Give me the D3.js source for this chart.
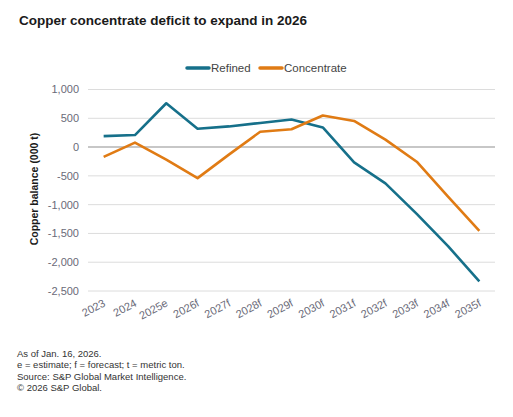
<!DOCTYPE html>
<html><head><meta charset="utf-8">
<script src="https://cdn.jsdelivr.net/npm/d3@7"></script>
<style>
body{margin:0;background:#fff;}
svg{display:block;font-family:"Liberation Sans",Arial,sans-serif;}
</style></head>
<body>
<svg id="chart" width="513" height="417"></svg>
<script>
const categories = ["2023","2024","2025e","2026f","2027f","2028f","2029f","2030f","2031f","2032f","2033f","2034f","2035f"];
const refined = [182, 200, 752, 310, 350, 410, 470, 333, -275, -640, -1170, -1730, -2340];
const concentrate = [-180, 68, -225, -548, -140, 258, 302, 540, 445, 120, -263, -870, -1465];
const yTicks = [1000, 500, 0, -500, -1000, -1500, -2000, -2500];
const seriesNames = ["Refined", "Concentrate"];
const colors = ["#16708a", "#e07b14"];
const footnotes = ["As of Jan. 16, 2026.", "e = estimate; f = forecast; t = metric ton.", "Source: S&P Global Market Intelligence.", "\u00a9 2026 S&P Global."];

const svg = d3.select("#chart");
const L = 88, R = 495, T = 89, B = 290.5;

const x = d3.scalePoint().domain(categories).range([L, R]).padding(0.5);
const y = d3.scaleLinear().domain([-2500, 1000]).range([B, T]);

svg.append("text").attr("x", 19).attr("y", 25)
  .attr("font-size", 13.5).attr("font-weight", "bold").attr("fill", "#1a1a1a")
  .text("Copper concentrate deficit to expand in 2026");

// grid
const yAxis = d3.axisLeft(y).tickValues(yTicks).tickSize(-(R - L)).tickPadding(9)
  .tickFormat(d3.format(","));
const gy = svg.append("g").attr("transform", `translate(${L},0)`).call(yAxis);
gy.select(".domain").remove();
gy.selectAll(".tick line").attr("stroke", d => d === 0 ? "#b5b5b5" : "#dcdcdc").attr("stroke-width", d => d === 0 ? 1.5 : 1);
gy.selectAll(".tick text").attr("font-size", 11).attr("fill", "#6a6a78")
  .attr("font-family", "'Liberation Sans',Arial,sans-serif")
  .attr("x", -9).attr("dy", "0.35em").text(d => d3.format(",")(d).replace("\u2212", "-"));

// x axis labels
const xAxis = d3.axisBottom(x).tickSize(0).tickPadding(0);
const gx = svg.append("g").attr("transform", `translate(0,${B})`).call(xAxis);
gx.select(".domain").remove();
gx.selectAll(".tick text").attr("font-size", 11).attr("fill", "#6a6a78")
  .attr("font-family", "'Liberation Sans',Arial,sans-serif")
  .attr("text-anchor", "end").attr("dy", 0).attr("y", 0)
  .attr("transform", "translate(2,15) rotate(-28)");

// y axis title
svg.append("text").attr("transform", `translate(38,189) rotate(-90)`)
  .attr("text-anchor", "middle").attr("font-size", 10.5).attr("font-weight", "bold").attr("fill", "#1a1a1a")
  .text("Copper balance (000 t)");

// lines
const line = d3.line().x((d, i) => x(categories[i])).y(d => y(d));
[refined, concentrate].forEach((s, k) => {
  svg.append("path").datum(s).attr("d", line).attr("fill", "none")
    .attr("stroke", colors[k]).attr("stroke-width", 2.6).attr("stroke-linejoin", "round");
});

// legend
const leg = [{x: 186, tx: 211}, {x: 259, tx: 284}];
seriesNames.forEach((n, k) => {
  svg.append("line").attr("x1", leg[k].x + 1).attr("x2", leg[k].x + 23).attr("y1", 68).attr("y2", 68)
    .attr("stroke", colors[k]).attr("stroke-width", 3.5).attr("stroke-linecap", "round");
  svg.append("text").attr("x", leg[k].tx).attr("y", 72).attr("font-size", 11.5).attr("fill", "#444")
    .text(n);
});

// footnotes
footnotes.forEach((t, i) => {
  svg.append("text").attr("x", 17).attr("y", 357 + i * 11.4).attr("font-size", 9.5).attr("fill", "#333").text(t);
});
</script>
</body></html>
